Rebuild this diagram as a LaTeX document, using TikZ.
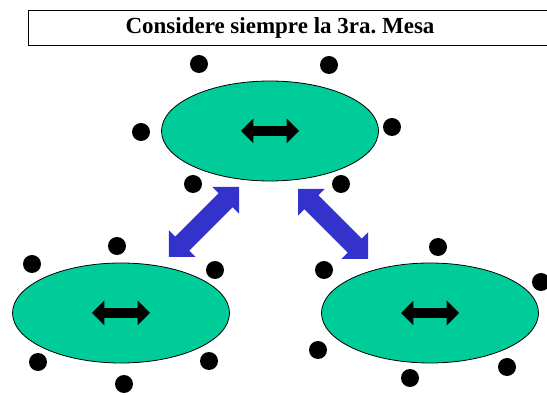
\documentclass[tikz,border=0pt]{standalone}
\usepackage{fontspec}
\setmainfont{Liberation Serif}
\usepackage{tikz}
\usetikzlibrary{shapes.geometric, shapes.arrows}
\frenchspacing
\definecolor{MesaGreen}{HTML}{00CC99}
\definecolor{ArrowBlue}{HTML}{3333CC}
\newcommand\titletext{Considere siempre la 3ra. Mesa}
\tikzstyle{mesa} = [ellipse, draw=black, fill=MesaGreen, minimum width=217pt, minimum height=100pt, inner sep=0pt]
\tikzstyle{silla} = [circle, fill=black, minimum size=18pt, inner sep=0pt]
\tikzstyle{giro} = [double arrow, fill=black, minimum height=58pt, inner xsep=0pt, inner ysep=4.5pt, double arrow head extend=7.5pt]
\tikzstyle{paso} = [double arrow, fill=ArrowBlue, minimum height=99pt, inner xsep=0pt, inner ysep=9.5pt, double arrow head extend=9pt]
\tikzstyle{titlebox} = [rectangle, draw=black, minimum width=532pt, minimum height=35pt]
\tikzstyle{titletext} = [font=\fontsize{23}{27}\selectfont\bfseries, inner sep=0pt]
\tikzset{x=1pt, y=-1pt, every picture/.style={line width=0.8pt}}

\begin{document}
\begin{tikzpicture}
\useasboundingbox (0,0) rectangle (547,395);
\node[titlebox] (box) at (294, 27.5) {};
\node[titletext] (title) at (280, 28) {\titletext};
% the three tables
\node[mesa] (top) at (270, 131) {};
\node[mesa] (left) at (121, 313) {};
\node[mesa] (right) at (430, 313) {};
\node[giro] (gtop) at (top) {};
\node[giro] (gleft) at (left) {};
\node[giro] (gright) at (right) {};
% chairs round the top table
\node[silla] (t1) at (199, 64) {};
\node[silla] (t2) at (329, 65) {};
\node[silla] (t3) at (141, 132) {};
\node[silla] (t4) at (392, 127) {};
\node[silla] (t5) at (193, 184) {};
\node[silla] (t6) at (341, 184) {};
% chairs round the left table
\node[silla] (l1) at (117, 246) {};
\node[silla] (l2) at (32, 264) {};
\node[silla] (l3) at (215, 270) {};
\node[silla] (l4) at (38, 362) {};
\node[silla] (l5) at (209, 361) {};
\node[silla] (l6) at (124, 384) {};
% chairs round the right table
\node[silla] (r1) at (438, 247) {};
\node[silla] (r2) at (324, 270) {};
\node[silla] (r3) at (541, 282) {};
\node[silla] (r4) at (318, 350) {};
\node[silla] (r5) at (507, 367) {};
\node[silla] (r6) at (410, 378) {};
% moves between the tables
\node[paso, rotate=45] (pleft) at (204, 222) {};
\node[paso, rotate=-45] (pright) at (333, 224) {};
\end{tikzpicture}
\end{document}
